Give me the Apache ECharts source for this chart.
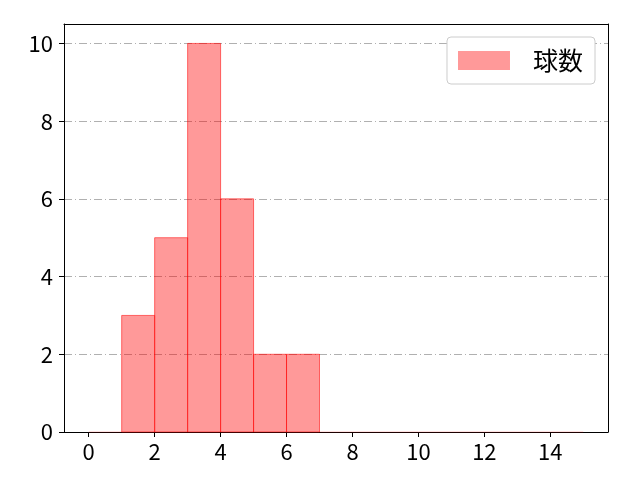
<!DOCTYPE html>
<html>
<head>
<meta charset="utf-8">
<script src="https://cdn.jsdelivr.net/npm/echarts@6/dist/echarts.min.js"></script>
<style>
  html, body { margin: 0; padding: 0; background: #fff; }
  #main { width: 640px; height: 480px; }
</style>
</head>
<body>
<div id="main"></div>
<script>
// bin edges (width 1) and counts
var binStarts = [0, 1, 2, 3, 4, 5, 6, 7, 8, 9, 10, 11, 12, 13, 14];
var counts    = [0, 3, 5, 10, 6, 2, 2, 0, 0, 0, 0, 0, 0, 0, 0];
var xTicks = [0, 2, 4, 6, 8, 10, 12, 14];
var yTicks = [0, 2, 4, 6, 8, 10];
var seriesName = '球数';

var font = '"Noto Sans CJK JP", "Noto Sans", sans-serif';
var chart = echarts.init(document.getElementById('main'));

var bins = binStarts.map(function (s, i) {
  return [s, s + 1, counts[i]];
});

var frameAxis = {
  type: 'value',
  axisLine: { show: true, onZero: false, lineStyle: { color: '#000', width: 1 } },
  axisTick: { show: false },
  axisLabel: { show: false },
  splitLine: { show: false }
};

var option = {
  animation: false,
  grid: { left: 64, right: 32, top: 24, bottom: 48 },
  legend: {
    right: 45,
    top: 37,
    padding: [11, 12, 11, 11],
    backgroundColor: '#fff',
    borderColor: '#cccccc',
    borderWidth: 1,
    borderRadius: 4,
    itemWidth: 52,
    itemHeight: 19,
    icon: 'rect',
    textStyle: { fontFamily: font, fontSize: 25, color: '#000', padding: [0, 0, 0, 18] },
    data: [seriesName]
  },
  xAxis: [{
    type: 'value',
    min: -0.75,
    max: 15.75,
    axisLine: { show: true, onZero: false, lineStyle: { color: '#000', width: 1 } },
    axisTick: { show: true, customValues: xTicks, length: 5, lineStyle: { color: '#000' } },
    axisLabel: { customValues: xTicks, fontFamily: font, fontSize: 22, color: '#000', margin: 9 },
    splitLine: { show: false }
  }, Object.assign({ position: 'top', min: -0.75, max: 15.75 }, frameAxis)],
  yAxis: [{
    type: 'value',
    min: 0,
    max: 10.5,
    interval: 2,
    axisLine: { show: true, onZero: false, lineStyle: { color: '#000', width: 1 } },
    axisTick: { show: true, customValues: yTicks, length: 5, lineStyle: { color: '#000' } },
    axisLabel: { customValues: yTicks, fontFamily: font, fontSize: 22, color: '#000', margin: 11 },
    splitLine: { show: true, lineStyle: { color: '#b0b0b0', width: 1, type: [8, 3, 1, 3] } }
  }, Object.assign({ position: 'right', min: 0, max: 10.5 }, frameAxis)],
  series: [{
    name: seriesName,
    type: 'custom',
    xAxisIndex: 0,
    yAxisIndex: 0,
    itemStyle: { color: 'rgba(255,0,0,0.4)', borderColor: 'rgba(255,0,0,0.55)' },
    renderItem: function (params, api) {
      var p0 = api.coord([api.value(0), 0]);
      var p1 = api.coord([api.value(1), api.value(2)]);
      var empty = api.value(2) === 0;
      return {
        type: 'rect',
        shape: { x: p0[0], y: p1[1], width: p1[0] - p0[0], height: p0[1] - p1[1] },
        style: {
          fill: 'rgba(255,0,0,0.4)',
          stroke: empty ? 'rgba(255,0,0,0.12)' : 'rgba(255,0,0,0.55)',
          lineWidth: 1
        }
      };
    },
    encode: { x: [0, 1], y: 2 },
    data: bins,
    z: 3
  }]
};

chart.setOption(option);
</script>
</body>
</html>
